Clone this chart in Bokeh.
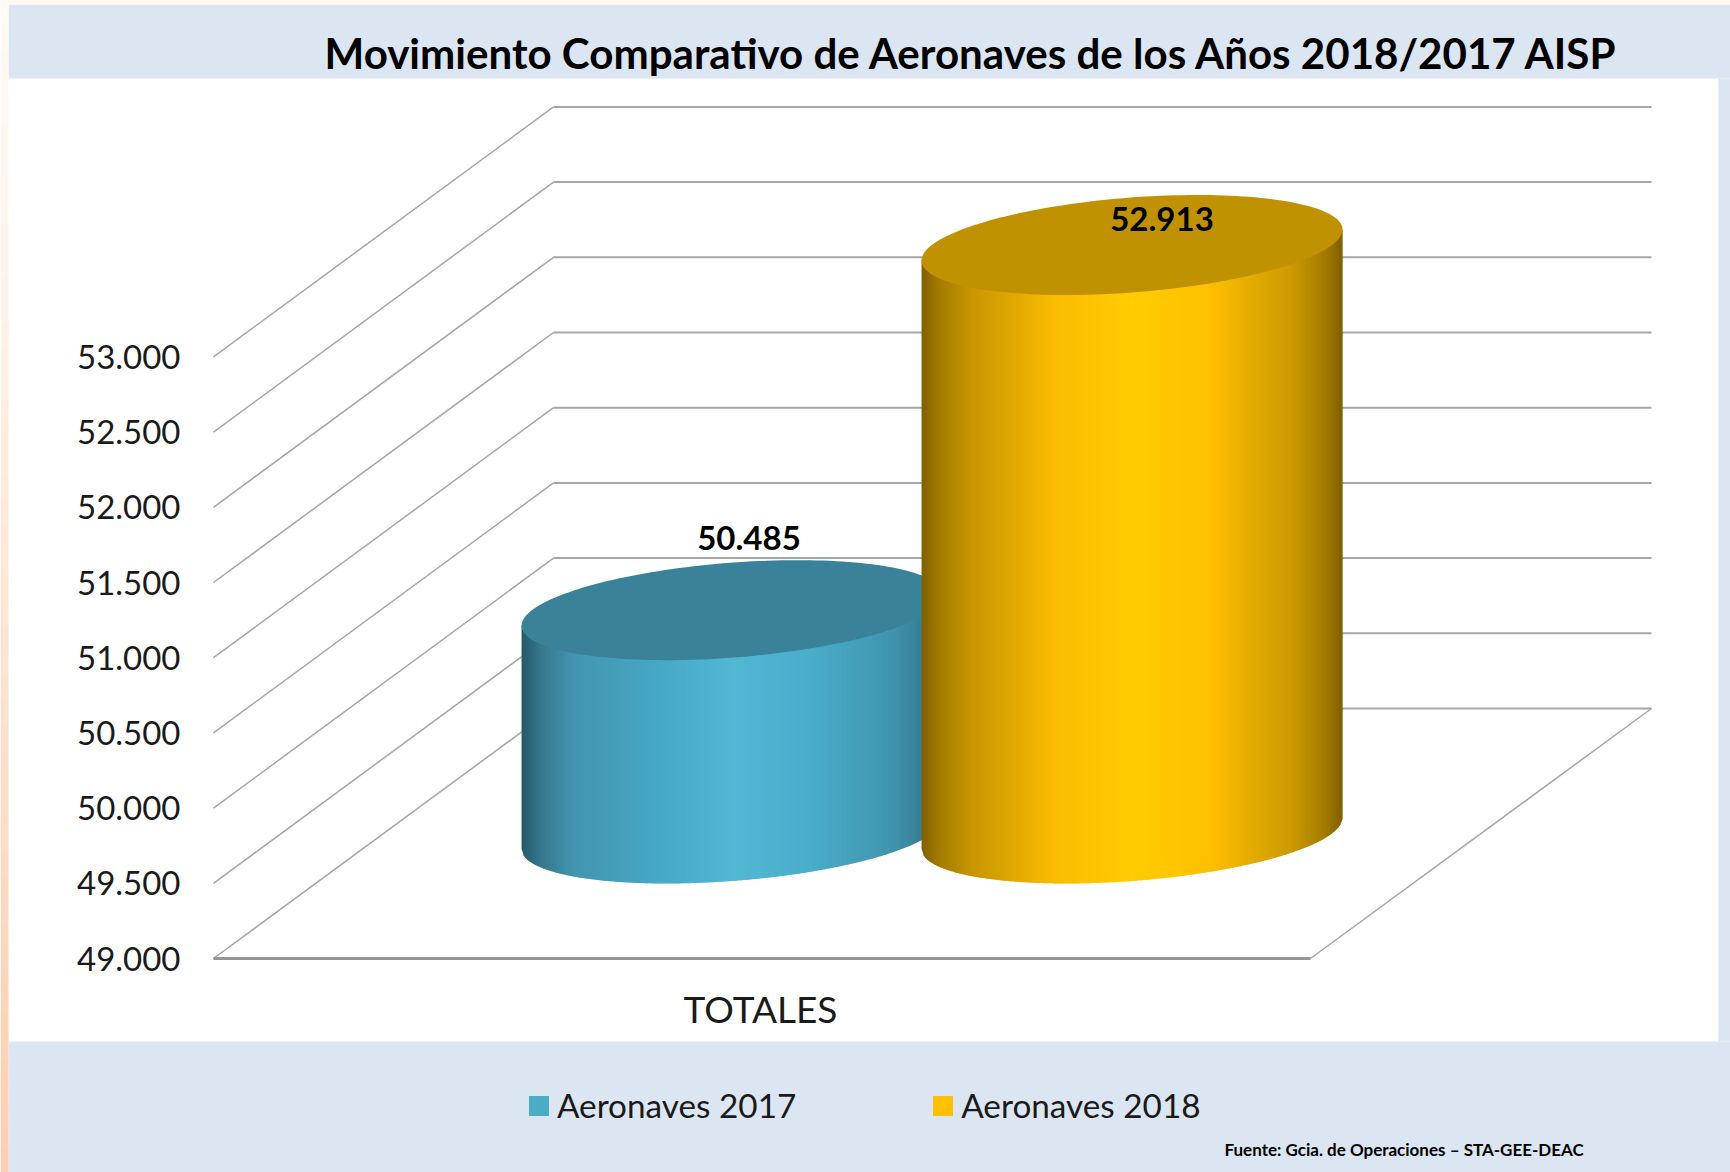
import numpy as np
from bokeh.plotting import figure
from bokeh.embed import file_html
from bokeh.resources import INLINE
from bokeh.models import (Range1d, FixedTicker, BoxAnnotation, Legend, LegendItem)
from bokeh.core.properties import value

# ---- data
CATEGORY = ["TOTALES"]
SERIES = ["Aeronaves 2017", "Aeronaves 2018"]
VALUES = [50485, 52913]
VALUE_LABELS = ["50.485", "52.913"]
TICKS = [49000, 49500, 50000, 50500, 51000, 51500, 52000, 52500, 53000]
TICK_LABELS = ["49.000", "49.500", "50.000", "50.500", "51.000", "51.500", "52.000", "52.500", "53.000"]
TITLE = "Movimiento Comparativo de Aeronaves de los Años 2018/2017 AISP"
SOURCE = "Fuente: Gcia. de Operaciones – STA-GEE-DEAC"

# ---- layout (canvas pixels)
W, H = 1730, 1172
AX_X, CAT_LINE_Y = 190, 975
FRONT_Y = 958                      # pixel of 49.000 on the front edge
SCALE = 0.1504                     # pixels per unit
X_FL, X_FR, DEPTH_X, DEPTH_Y = 213, 1310, 340, 250
BACK_R = 1651
def uy(px):                        # vertical pixel distance -> axis units
    return px / SCALE
def py(pixel):                     # canvas pixel row -> axis units
    return TICKS[0] + uy(FRONT_Y - pixel)

# ---- cylinder styling
CENTERS = [731.5, 1131.5]
CAT_X = 760
A, DX, DY = 200.0, 65.5, 50.0
LABEL_DX = [17, 30]
LABEL_DY = [72, 26]
TOP_COLORS = ["#3a8299", "#c09100"]
LEGEND_COLORS = ["#4bacc6", "#ffc000"]
STOP_POS = [0.0, 0.04, 0.12, 0.32, 0.5, 0.68, 0.88, 0.96, 1.0]
STOPS = [
    ["#255868", "#34758a", "#4294ae", "#46a8c4", "#52b7d3", "#4aaeca", "#4094ae", "#387c92", "#2c6274"],
    ["#7f6000", "#a27a00", "#c79700", "#fbbc00", "#ffcc00", "#ffc000", "#cb9a00", "#a27a00", "#7f6000"],
]
BLUE = "#dce6f2"

def hex2rgb(h):
    return np.array([int(h[i:i + 2], 16) for i in (1, 3, 5)], float)

def shade(stops, f):
    rgb = np.array([hex2rgb(s) for s in stops])
    c = [int(round(np.interp(f, STOP_POS, rgb[:, k]))) for k in range(3)]
    return "#%02x%02x%02x" % tuple(c)

p = figure(width=W, height=H, output_backend="svg", toolbar_location=None,
           x_range=Range1d(0, W), y_range=Range1d(py(H), py(0)),
           min_border=0, background_fill_color="white", border_fill_color="white", outline_line_color=None)
p.grid.visible = False

# ---- panel backgrounds
def box(l, r, t, b, c):
    p.add_layout(BoxAnnotation(left=l, right=r, top=t, bottom=b, left_units="canvas", right_units="canvas",
                               top_units="canvas", bottom_units="canvas", fill_color=c, fill_alpha=1,
                               line_color=None, level="underlay"))
box(8, W, 4, 78, BLUE)
box(8, W, 1041, H, BLUE)
box(1718, W, 78, 1041, BLUE)
box(0, W, 0, 4, "#fff8f2")
STRIPE_Y = [0, 300, 600, 900, 1172]
STRIPE_C = ["#fffaf6", "#fef3ea", "#fde6d6", "#fcd9c0", "#fcd0ae"]
for i in range(len(STRIPE_Y) - 1):
    n = 12
    for j in range(n):
        f = j / n
        c = "#%02x%02x%02x" % tuple(int(v) for v in (hex2rgb(STRIPE_C[i]) * (1 - f) + hex2rgb(STRIPE_C[i + 1]) * f))
        y0 = STRIPE_Y[i] + (STRIPE_Y[i + 1] - STRIPE_Y[i]) * f
        box(0, 8, y0, y0 + (STRIPE_Y[i + 1] - STRIPE_Y[i]) / n + 1, c)

# ---- 3D grid
gx, gy = [], []
for t in TICKS:
    gx.append([X_FL, X_FL + DEPTH_X])
    gy.append([t, t + uy(DEPTH_Y)])
p.multi_line(gx, gy, line_color="#a6a6a6", line_width=1.5)
p.multi_line([[X_FL + DEPTH_X, BACK_R]] * len(TICKS), [[t + uy(DEPTH_Y)] * 2 for t in TICKS],
             line_color="#a6a6a6", line_width=2)
p.line([X_FR, BACK_R], [TICKS[0], TICKS[0] + uy(DEPTH_Y)], line_color="#a6a6a6", line_width=1.5)
p.line([X_FL, X_FR], [TICKS[0], TICKS[0]], line_color="#969696", line_width=3)

# ---- cylinders
R = np.hypot(A, DX)
PHI = np.arctan2(DX, A)
def lower(x, cx):
    u = np.clip((x - cx) / R, -1, 1)
    return DY * np.sin(PHI - np.arccos(u))

for i, v in enumerate(VALUES):
    cx = CENTERS[i]
    base = TICKS[0] + uy(DEPTH_Y / 2)
    top = v + uy(DEPTH_Y / 2)
    xs_, ys_, cs_ = [], [], []
    edges = np.arange(cx - R, cx + R, 2.0)
    for x0 in edges:
        x1 = min(x0 + 2.8, cx + R)
        xs_.append([x0, x1, x1, x0])
        ys_.append([base + uy(lower(x0, cx)), base + uy(lower(x1, cx)),
                    top + uy(lower(x1, cx) + 1), top + uy(lower(x0, cx) + 1)])
        cs_.append(shade(STOPS[i], (x0 + 1 - (cx - R)) / (2 * R)))
    p.patches(xs_, ys_, fill_color=cs_, line_color=None)
    T = np.linspace(0, 2 * np.pi, 180)
    p.patch(cx + A * np.cos(T) + DX * np.sin(T), top + uy(DY * np.sin(T)), fill_color=TOP_COLORS[i], line_color=None)

p.text([CENTERS[i] + LABEL_DX[i] for i in range(2)],
       [VALUES[i] + uy(DEPTH_Y / 2 + LABEL_DY[i]) for i in range(2)],
       text=VALUE_LABELS, text_font=value("Lato"), text_font_style="bold", text_font_size="33px",
       text_color="black", text_align="center", text_baseline="middle")

# ---- axes
ax = p.yaxis[0]
ax.fixed_location = AX_X
ax.ticker = FixedTicker(ticks=TICKS)
ax.major_label_overrides = dict(zip(TICKS, TICK_LABELS))
ax.major_label_text_font = "Lato"
ax.major_label_text_font_size = "33px"
ax.major_label_text_color = "#1a1a1a"
ax.major_label_standoff = 4
ax.major_tick_line_color = None
ax.minor_tick_line_color = None
ax.axis_line_color = None

bx = p.xaxis[0]
bx.fixed_location = py(CAT_LINE_Y)
bx.ticker = FixedTicker(ticks=[CAT_X])
bx.major_label_overrides = {CAT_X: CATEGORY[0]}
bx.major_label_text_font = "Lato"
bx.major_label_text_font_size = "37px"
bx.major_label_text_color = "#1a1a1a"
bx.major_label_standoff = 4
bx.major_tick_line_color = None
bx.minor_tick_line_color = None
bx.axis_line_color = None

# ---- title and source
p.text([324], [py(52)], text=[TITLE], text_font=value("Lato"), text_font_style="bold", text_font_size="42.1px",
       text_color="black", text_baseline="middle")
p.text([1224], [py(1149)], text=[SOURCE], text_font=value("Lato"), text_font_style="bold", text_font_size="17px",
       text_color="black", text_baseline="middle")

# ---- legend
nan = float("nan")
r0 = p.quad(left=[nan], right=[nan], top=[nan], bottom=[nan], fill_color=LEGEND_COLORS[0], line_color=None)
r1 = p.quad(left=[nan], right=[nan], top=[nan], bottom=[nan], fill_color=LEGEND_COLORS[1], line_color=None)
leg = Legend(items=[LegendItem(label=value(SERIES[0]), renderers=[r0]), LegendItem(label=value(SERIES[1]), renderers=[r1])],
             orientation="horizontal", location=(526, 47), background_fill_alpha=0, border_line_color=None,
             padding=0, margin=0, spacing=134, glyph_width=25, glyph_height=25, label_standoff=6,
             label_width=238, label_text_font="Lato", label_text_font_size="33.3px", label_text_color="#1a1a1a")
p.add_layout(leg)

open("out.html", "w").write(file_html(p, INLINE))
